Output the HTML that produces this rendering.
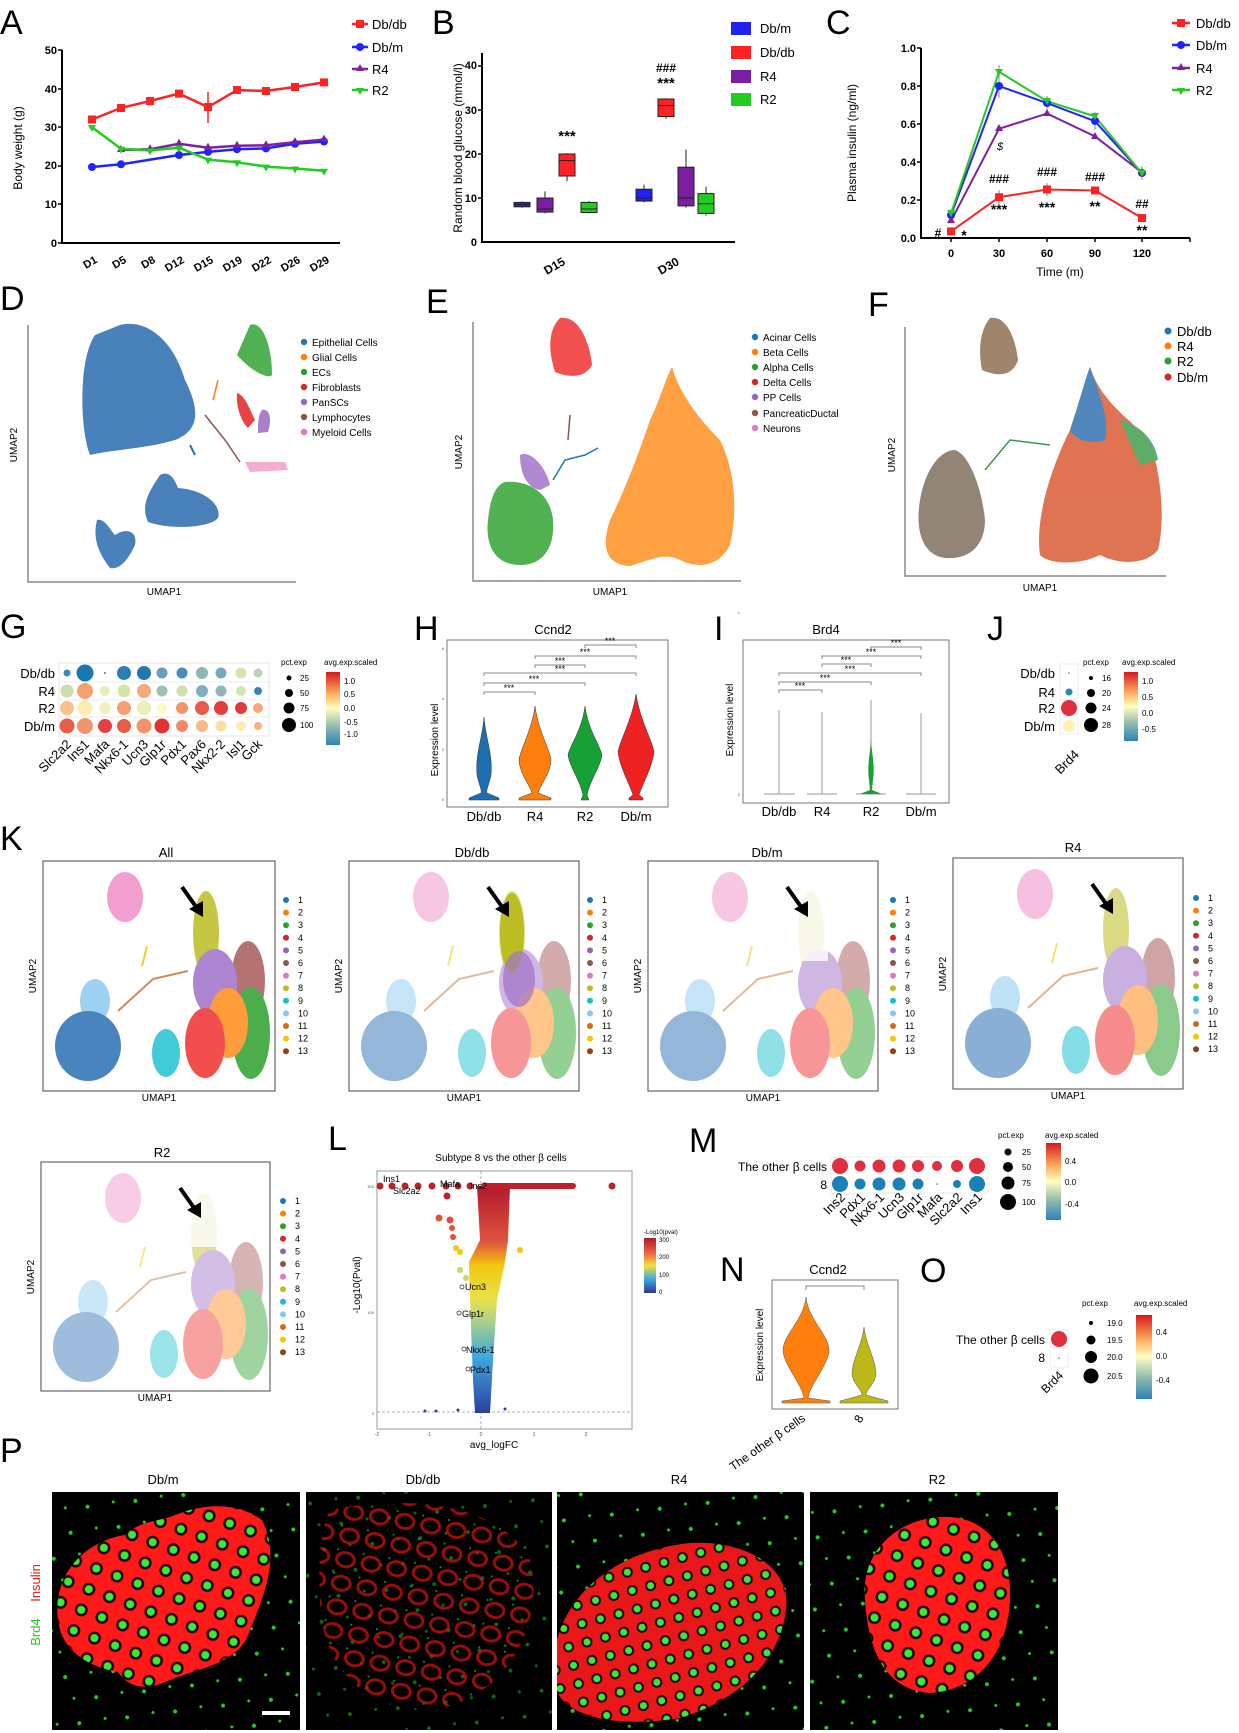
<!DOCTYPE html>
<html><head><meta charset="utf-8"><style>
html,body{margin:0;padding:0;background:#fff;}
svg{display:block;font-family:"Liberation Sans",sans-serif;}
.L{font-size:34px;}
.t{font-size:11px;font-weight:bold;}
.s{font-size:10px;}
.xs{font-size:8px;}
.um{opacity:.82;}
</style></head><body>
<svg width="1239" height="1733" viewBox="0 0 1239 1733" xmlns="http://www.w3.org/2000/svg">
<defs>
<linearGradient id="cb" x1="0" y1="0" x2="0" y2="1">
<stop offset="0" stop-color="#d7191c"/><stop offset=".3" stop-color="#fdae61"/><stop offset=".5" stop-color="#ffffbf"/><stop offset=".75" stop-color="#8fb9b0"/><stop offset="1" stop-color="#2b83ba"/></linearGradient>
<linearGradient id="vg" x1="0" y1="0" x2="0" y2="1">
<stop offset="0" stop-color="#b2182b"/><stop offset=".25" stop-color="#e0573f"/><stop offset=".35" stop-color="#f2c80f"/><stop offset=".5" stop-color="#e8e24a"/><stop offset=".6" stop-color="#a8d08d"/><stop offset=".75" stop-color="#3fa9e0"/><stop offset="1" stop-color="#2b3f9e"/></linearGradient>
<linearGradient id="lcb" x1="0" y1="0" x2="0" y2="1">
<stop offset="0" stop-color="#b2182b"/><stop offset=".3" stop-color="#f46d43"/><stop offset=".5" stop-color="#f2e33a"/><stop offset=".75" stop-color="#3fa9e0"/><stop offset="1" stop-color="#313695"/></linearGradient>
<pattern id="cells" width="22" height="22" patternUnits="userSpaceOnUse" patternTransform="rotate(20)">
<circle cx="11" cy="11" r="6.5" fill="#2a0000"/><circle cx="11" cy="11" r="4" fill="#33ee33"/></pattern>
<pattern id="cells2" width="19" height="19" patternUnits="userSpaceOnUse" patternTransform="rotate(-15)">
<circle cx="9" cy="9" r="5.5" fill="#2a0000"/><circle cx="9" cy="9" r="3.5" fill="#33ee33"/></pattern>
<pattern id="faint" width="26" height="24" patternUnits="userSpaceOnUse" patternTransform="rotate(10)">
<ellipse cx="13" cy="12" rx="9" ry="7" fill="none" stroke="#cc1111" stroke-width="3"/><circle cx="4" cy="3" r="1" fill="#2c2"/></pattern>
<pattern id="gdots" width="37" height="31" patternUnits="userSpaceOnUse" patternTransform="rotate(33)">
<circle cx="6" cy="7" r="2" fill="#2c2"/><circle cx="25" cy="20" r="1.5" fill="#2c2"/></pattern>
<g id="kumap">
<ellipse cx="82" cy="36" rx="18" ry="25" fill="#f08fc8"/>
<path d="M75,150 L110,118 L145,110" stroke="#c8763a" stroke-width="2" fill="none"/>
<path d="M104,85 L99,105" stroke="#f2c800" stroke-width="2"/>
<ellipse cx="52" cy="140" rx="15" ry="22" fill="#8ccbf2"/>
<ellipse cx="45" cy="185" rx="33" ry="35" fill="#2a6fb5"/>
<ellipse cx="123" cy="192" rx="14" ry="24" fill="#22c2d0"/>
<ellipse cx="205" cy="120" rx="17" ry="40" fill="#a85a5a"/>
<ellipse cx="208" cy="172" rx="19" ry="46" fill="#2ca02c"/>
<ellipse cx="163" cy="72" rx="13" ry="42" fill="#bcbd22"/>
<ellipse cx="172" cy="122" rx="22" ry="34" fill="#a070c8"/>
<ellipse cx="185" cy="162" rx="20" ry="35" fill="#ff8c1a"/>
<ellipse cx="162" cy="182" rx="20" ry="35" fill="#f03030"/>
</g>
<g id="karrow"><path d="M139,26 L156,50" stroke="#000" stroke-width="4"/><path d="M146,48 L160,56 L160,40 Z" fill="#000"/></g>
<g id="klegend" font-size="9">
<circle cx="0" cy="0" r="3" fill="#1f77b4"/><text x="12" y="3">1</text>
<circle cx="0" cy="12.6" r="3" fill="#ff7f0e"/><text x="12" y="15.6">2</text>
<circle cx="0" cy="25.2" r="3" fill="#2ca02c"/><text x="12" y="28.2">3</text>
<circle cx="0" cy="37.8" r="3" fill="#d62728"/><text x="12" y="40.8">4</text>
<circle cx="0" cy="50.4" r="3" fill="#9467bd"/><text x="12" y="53.4">5</text>
<circle cx="0" cy="63" r="3" fill="#8c564b"/><text x="12" y="66">6</text>
<circle cx="0" cy="75.6" r="3" fill="#e377c2"/><text x="12" y="78.6">7</text>
<circle cx="0" cy="88.2" r="3" fill="#bcbd22"/><text x="12" y="91.2">8</text>
<circle cx="0" cy="100.8" r="3" fill="#17becf"/><text x="12" y="103.8">9</text>
<circle cx="0" cy="113.4" r="3" fill="#7fc8f8"/><text x="12" y="116.4">10</text>
<circle cx="0" cy="126" r="3" fill="#d2691e"/><text x="12" y="129">11</text>
<circle cx="0" cy="138.6" r="3" fill="#f2c800"/><text x="12" y="141.6">12</text>
<circle cx="0" cy="151.2" r="3" fill="#8b4513"/><text x="12" y="154.2">13</text>
</g>
</defs>

<!-- ===== A ===== -->
<text class="L" x="0" y="34">A</text>
<g stroke="#000" stroke-width="2" fill="none"><path d="M62,50 V243 H340"/></g>
<g class="t" text-anchor="end"><text x="57" y="54">50</text><text x="57" y="93">40</text><text x="57" y="131">30</text><text x="57" y="169">20</text><text x="57" y="208">10</text><text x="57" y="247">0</text></g>
<g stroke="#000" stroke-width="1.5"><path d="M58,50H62M58,89H62M58,127H62M58,166H62M58,204H62M58,243H62"/></g>
<text class="t" transform="translate(22,148) rotate(-90)" text-anchor="middle" style="font-weight:normal;font-size:12px">Body weight (g)</text>
<g class="t" text-anchor="end">
<text transform="translate(98,262) rotate(-30)">D1</text><text transform="translate(127,262) rotate(-30)">D5</text><text transform="translate(156,262) rotate(-30)">D8</text><text transform="translate(185,262) rotate(-30)">D12</text><text transform="translate(214,262) rotate(-30)">D15</text><text transform="translate(243,262) rotate(-30)">D19</text><text transform="translate(272,262) rotate(-30)">D22</text><text transform="translate(301,262) rotate(-30)">D26</text><text transform="translate(330,262) rotate(-30)">D29</text></g>
<path d="M208,123V92" stroke="#f22" stroke-width="1.5"/>
<polyline fill="none" stroke="#f22" stroke-width="2.5" points="92,119.5 121,107.9 150,101 179,93.6 208,107.1 237,90.1 266,90.9 295,87 324,82.4"/>
<polyline fill="none" stroke="#22f" stroke-width="2.5" points="92,167 121,164.3 179,155 208,151.9 237,149.2 266,148.4 295,143.8 324,141.5"/>
<polyline fill="none" stroke="#8020a0" stroke-width="2.5" points="121,150 150,149.2 179,143.8 208,147.7 237,145.7 266,145.3 295,142.3 324,139.6"/>
<polyline fill="none" stroke="#2c2" stroke-width="2.5" points="92,127.2 121,148.8 150,150.4 179,147.7 208,159.6 237,162.3 266,166.6 295,168.5 324,170.8"/>
<g fill="#f22"><rect x="88" y="115.5" width="8" height="8"/><rect x="117" y="104" width="8" height="8"/><rect x="146" y="97" width="8" height="8"/><rect x="175" y="89.6" width="8" height="8"/><rect x="204" y="103" width="8" height="8"/><rect x="233" y="86" width="8" height="8"/><rect x="262" y="87" width="8" height="8"/><rect x="291" y="83" width="8" height="8"/><rect x="320" y="78.4" width="8" height="8"/></g>
<g fill="#22f"><circle cx="92" cy="167" r="4"/><circle cx="121" cy="164.3" r="4"/><circle cx="179" cy="155" r="4"/><circle cx="208" cy="151.9" r="4"/><circle cx="237" cy="149.2" r="4"/><circle cx="266" cy="148.4" r="4"/><circle cx="295" cy="143.8" r="4"/><circle cx="324" cy="141.5" r="4"/></g>
<g fill="#8020a0"><path d="M121,145l4,7h-8z"/><path d="M150,144.2l4,7h-8z"/><path d="M179,138.8l4,7h-8z"/><path d="M208,142.7l4,7h-8z"/><path d="M237,140.7l4,7h-8z"/><path d="M266,140.3l4,7h-8z"/><path d="M295,137.3l4,7h-8z"/><path d="M324,134.6l4,7h-8z"/></g>
<g fill="#2c2"><path d="M92,132l4,-7h-8z"/><path d="M121,153.8l4,-7h-8z"/><path d="M150,155.4l4,-7h-8z"/><path d="M179,152.7l4,-7h-8z"/><path d="M208,164.6l4,-7h-8z"/><path d="M237,167.3l4,-7h-8z"/><path d="M266,171.6l4,-7h-8z"/><path d="M295,173.5l4,-7h-8z"/><path d="M324,175.8l4,-7h-8z"/></g>
<g font-size="13">
<path d="M352,24H368" stroke="#f22" stroke-width="2.5"/><rect x="356" y="20" width="8" height="8" fill="#f22"/><text x="372" y="29">Db/db</text>
<path d="M352,47H368" stroke="#22f" stroke-width="2.5"/><circle cx="360" cy="47" r="4" fill="#22f"/><text x="372" y="52">Db/m</text>
<path d="M352,69H368" stroke="#8020a0" stroke-width="2.5"/><path d="M360,64l4,7h-8z" fill="#8020a0"/><text x="372" y="74">R4</text>
<path d="M352,90H368" stroke="#2c2" stroke-width="2.5"/><path d="M360,95l4,-7h-8z" fill="#2c2"/><text x="372" y="95">R2</text></g>

<!-- ===== B ===== -->
<text class="L" x="432" y="34">B</text>
<g stroke="#000" stroke-width="2" fill="none"><path d="M482,53 V242 H735"/></g>
<g class="t" text-anchor="end"><text x="477" y="69">40</text><text x="477" y="114">30</text><text x="477" y="158">20</text><text x="477" y="202">10</text><text x="477" y="246">0</text></g>
<g stroke="#000" stroke-width="1.5"><path d="M478,66H482M478,110H482M478,154H482M478,198H482"/></g>
<text transform="translate(462,148) rotate(-90)" text-anchor="middle" font-size="12">Random blood glucose (mmol/l)</text>
<g class="t" text-anchor="end" style="font-size:12px"><text transform="translate(566,264) rotate(-30)">D15</text><text transform="translate(680,264) rotate(-30)">D30</text></g>
<g stroke="#222" stroke-width="1">
<path d="M522,207.7V201.5M545,213.4V191.4M567,181.3V153.1M589,213.4V201.1M644,202.4V184.8M666,118.8V98.1M686,207.7V149.6M706,215.6V186.6"/>
<rect x="514" y="202.4" width="16" height="4.4" fill="#22e"/>
<rect x="537" y="198" width="16" height="14.1" fill="#7a1fa2"/>
<rect x="559" y="154" width="16" height="22" fill="#f22"/>
<rect x="581" y="202.4" width="16" height="10.1" fill="#2c2"/>
<rect x="636" y="189.2" width="16" height="11.9" fill="#22e"/>
<rect x="658" y="99" width="16" height="17.6" fill="#f22"/>
<rect x="678" y="167.2" width="16" height="38.7" fill="#7a1fa2"/>
<rect x="698" y="193.6" width="16" height="19.8" fill="#2c2"/>
<path d="M514,204.6H530M537,209H553M559,160.6H575M581,209H597M636,198H652M658,105.6H674M678,198H694M698,203.7H714"/></g>
<g font-size="15" text-anchor="middle" font-weight="bold"><text x="567" y="141">***</text><text x="666" y="88">***</text><text x="666" y="72" font-size="12">###</text></g>
<g font-size="13">
<rect x="731" y="22" width="20" height="13" fill="#22e"/><text x="760" y="33">Db/m</text>
<rect x="731" y="46" width="20" height="13" fill="#f22"/><text x="760" y="57">Db/db</text>
<rect x="731" y="70" width="20" height="13" fill="#7a1fa2"/><text x="760" y="81">R4</text>
<rect x="731" y="93" width="20" height="13" fill="#2c2"/><text x="760" y="104">R2</text></g>

<!-- ===== C ===== -->
<text class="L" x="826" y="34">C</text>
<g stroke="#000" stroke-width="2" fill="none"><path d="M921,48 V238 H1190"/></g>
<g class="t" text-anchor="end"><text x="916" y="52">1.0</text><text x="916" y="90">0.8</text><text x="916" y="128">0.6</text><text x="916" y="166">0.4</text><text x="916" y="204">0.2</text><text x="916" y="242">0.0</text></g>
<g stroke="#000" stroke-width="1.5"><path d="M917,48H921M917,86H921M917,124H921M917,162H921M917,200H921M951,238V242M999,238V242M1047,238V242M1095,238V242M1142,238V242M1190,238V242"/></g>
<text transform="translate(856,143) rotate(-90)" text-anchor="middle" font-size="12">Plasma insulin (ng/ml)</text>
<g class="t" text-anchor="middle"><text x="951" y="257">0</text><text x="999" y="257">30</text><text x="1047" y="257">60</text><text x="1095" y="257">90</text><text x="1142" y="257">120</text></g>
<text x="1060" y="276" text-anchor="middle" font-size="12">Time (m)</text>
<path d="M999,65V98M1047,96V110M1095,112V130M1142,166V180M1047,183V196M999,190V204" stroke="#888" stroke-width="1"/>
<polyline fill="none" stroke="#22f" stroke-width="2" points="951,215.2 999,86 1047,103.1 1095,121.2 1142,173.4"/>
<polyline fill="none" stroke="#8020a0" stroke-width="2" points="951,220.9 999,128.8 1047,113.6 1095,136.4 1142,172.5"/>
<polyline fill="none" stroke="#2c2" stroke-width="2" points="951,213.3 999,71.8 1047,101.2 1095,116.4 1142,173.4"/>
<polyline fill="none" stroke="#f22" stroke-width="2" points="951,231.4 999,197.2 1047,189.5 1095,190.5 1142,218"/>
<g fill="#22f"><circle cx="951" cy="215" r="4"/><circle cx="999" cy="86" r="4"/><circle cx="1047" cy="103" r="4"/><circle cx="1095" cy="121" r="4"/><circle cx="1142" cy="173" r="4"/></g>
<g fill="#8020a0"><path d="M951,216l4,7h-8z"/><path d="M999,124l4,7h-8z"/><path d="M1047,109l4,7h-8z"/><path d="M1095,132l4,7h-8z"/><path d="M1142,168l4,7h-8z"/></g>
<g fill="#2c2"><path d="M951,217l4,-7h-8z"/><path d="M999,76l4,-7h-8z"/><path d="M1047,105l4,-7h-8z"/><path d="M1095,120l4,-7h-8z"/><path d="M1142,177l4,-7h-8z"/></g>
<g fill="#f22"><rect x="947" y="227.4" width="8" height="8"/><rect x="995" y="193.2" width="8" height="8"/><rect x="1043" y="185.5" width="8" height="8"/><rect x="1091" y="186.5" width="8" height="8"/><rect x="1138" y="214" width="8" height="8"/></g>
<g font-size="12" text-anchor="middle" font-weight="bold"><text x="938" y="237">#</text><text x="964" y="240" font-size="14">*</text>
<text x="999" y="183">###</text><text x="999" y="214" font-size="14">***</text>
<text x="1047" y="176">###</text><text x="1047" y="212" font-size="14">***</text>
<text x="1095" y="181">###</text><text x="1095" y="211" font-size="14">**</text>
<text x="1142" y="208">##</text><text x="1142" y="235" font-size="14">**</text>
<text x="1000" y="150" font-style="italic" font-weight="normal" font-size="11">$</text></g>
<g font-size="13">
<path d="M1172,23H1190" stroke="#f22" stroke-width="2.5"/><rect x="1177" y="19" width="8" height="8" fill="#f22"/><text x="1196" y="28">Db/db</text>
<path d="M1172,45H1190" stroke="#22f" stroke-width="2.5"/><circle cx="1181" cy="45" r="4" fill="#22f"/><text x="1196" y="50">Db/m</text>
<path d="M1172,68H1190" stroke="#8020a0" stroke-width="2.5"/><path d="M1181,63l4,7h-8z" fill="#8020a0"/><text x="1196" y="73">R4</text>
<path d="M1172,90H1190" stroke="#2c2" stroke-width="2.5"/><path d="M1181,95l4,-7h-8z" fill="#2c2"/><text x="1196" y="95">R2</text></g>

<!-- ===== D ===== -->
<text class="L" x="0" y="310">D</text>
<path d="M28,325V582H296" stroke="#888" stroke-width="1.5" fill="none"/>
<text x="164" y="595" class="s" text-anchor="middle">UMAP1</text>
<text transform="translate(17,445) rotate(-90)" class="s" text-anchor="middle">UMAP2</text>
<g class="um">
<g fill="#2166ac">
<path d="M120,325 C150,318 175,345 185,380 C200,410 200,430 175,440 C150,448 110,450 90,455 C80,430 78,360 95,335 Z"/>
<path d="M160,475 C170,470 175,480 178,488 C205,490 222,505 218,518 C210,528 170,530 148,522 C140,505 150,490 160,475 Z"/>
<path d="M97,520 C105,518 110,530 115,535 C125,528 138,530 135,545 C128,560 120,570 110,568 C100,555 92,540 97,520 Z"/>
</g>
<path d="M250,325 C262,320 272,345 272,375 C268,380 250,370 237,355 Z" fill="#2ca02c"/>
<path d="M237,393 C245,395 250,410 255,420 L248,428 C240,420 236,405 237,393 Z" fill="#e31a1c"/>
<path d="M262,410 C270,408 272,420 268,432 L258,433 C258,423 258,415 262,410Z" fill="#9467bd"/>
<path d="M245,462 L285,462 L288,470 L250,472 Z" fill="#f29ac8"/>
</g>
<path d="M205,415 L225,440 L240,462" stroke="#8c564b" stroke-width="1.5" fill="none"/>
<path d="M218,380 L213,400" stroke="#ff7f0e" stroke-width="1.5"/>
<path d="M190,445 L195,455" stroke="#1f77b4" stroke-width="2"/>
<g font-size="10">
<circle cx="304" cy="342" r="3.2" fill="#1f77b4"/><text x="312" y="346">Epithelial Cells</text>
<circle cx="304" cy="357" r="3.2" fill="#ff7f0e"/><text x="312" y="361">Glial Cells</text>
<circle cx="304" cy="372" r="3.2" fill="#2ca02c"/><text x="312" y="376">ECs</text>
<circle cx="304" cy="387" r="3.2" fill="#d62728"/><text x="312" y="391">Fibroblasts</text>
<circle cx="304" cy="402" r="3.2" fill="#9467bd"/><text x="312" y="406">PanSCs</text>
<circle cx="304" cy="417" r="3.2" fill="#8c564b"/><text x="312" y="421">Lymphocytes</text>
<circle cx="304" cy="432" r="3.2" fill="#e377c2"/><text x="312" y="436">Myeloid Cells</text></g>

<!-- ===== E ===== -->
<text class="L" x="426" y="313">E</text>
<path d="M473,322V581H741" stroke="#888" stroke-width="1.5" fill="none"/>
<text x="610" y="595" class="s" text-anchor="middle">UMAP1</text>
<text transform="translate(462,452) rotate(-90)" class="s" text-anchor="middle">UMAP2</text>
<g class="um">
<path d="M560,318 C580,315 590,345 592,365 C585,378 570,378 555,372 C548,350 548,330 560,318 Z" fill="#ee2a2a"/>
<path d="M672,367 C680,395 700,420 720,440 C735,470 738,510 730,545 C720,565 700,570 680,560 C665,552 650,560 630,566 C608,565 600,550 610,520 C625,490 640,450 650,420 C660,400 665,380 672,367 Z" fill="#ff8c1a"/>
<path d="M520,455 C530,450 545,465 550,485 L540,490 C528,488 520,475 520,455 Z" fill="#a070c8"/>
<path d="M505,482 C525,480 550,490 553,520 C555,545 545,565 520,565 C495,565 485,545 488,520 C490,500 495,485 505,482 Z" fill="#2ca02c"/>
</g>
<path d="M553,480 L565,460 L585,455 L598,448" stroke="#1f77b4" stroke-width="1.5" fill="none"/>
<path d="M570,415 L568,440" stroke="#8c564b" stroke-width="1.5"/>
<g font-size="10">
<circle cx="755" cy="337" r="3.2" fill="#1f77b4"/><text x="763" y="341">Acinar Cells</text>
<circle cx="755" cy="352" r="3.2" fill="#ff7f0e"/><text x="763" y="356">Beta Cells</text>
<circle cx="755" cy="367" r="3.2" fill="#2ca02c"/><text x="763" y="371">Alpha Cells</text>
<circle cx="755" cy="382" r="3.2" fill="#d62728"/><text x="763" y="386">Delta Cells</text>
<circle cx="755" cy="397" r="3.2" fill="#9467bd"/><text x="763" y="401">PP Cells</text>
<circle cx="755" cy="413" r="3.2" fill="#8c564b"/><text x="763" y="417">PancreaticDuctal</text>
<circle cx="755" cy="428" r="3.2" fill="#e377c2"/><text x="763" y="432">Neurons</text></g>

<!-- ===== F ===== -->
<text class="L" x="868" y="316">F</text>
<path d="M905,327V576H1166" stroke="#888" stroke-width="1.5" fill="none"/>
<text x="1040" y="591" class="s" text-anchor="middle">UMAP1</text>
<text transform="translate(895,455) rotate(-90)" class="s" text-anchor="middle">UMAP2</text>
<g class="um">
<path d="M990,318 C1005,315 1015,335 1018,360 C1012,378 995,376 982,370 C978,350 980,330 990,318 Z" fill="#8a6a4a"/>
<path d="M1090,367 C1100,400 1130,420 1150,440 C1162,480 1165,520 1158,550 C1145,565 1120,565 1100,555 C1080,565 1050,565 1040,555 C1035,520 1050,470 1070,430 C1080,400 1085,380 1090,367 Z" fill="#d8552e"/>
<path d="M1090,367 C1100,395 1110,420 1105,440 C1090,445 1075,440 1070,430 C1080,400 1085,380 1090,367 Z" fill="#2a6fb0"/>
<path d="M1120,420 C1140,425 1155,440 1158,460 L1140,465 Z" fill="#3a9a4a"/>
<path d="M955,450 C970,455 982,490 985,520 C985,545 970,560 945,558 C922,555 915,530 920,500 C925,470 940,450 955,450 Z" fill="#7a6a5a"/>
</g>
<path d="M985,470 L1010,440 L1050,445" stroke="#3a9a4a" stroke-width="1.5" fill="none"/>
<g font-size="13">
<circle cx="1168" cy="331" r="3.5" fill="#1f77b4"/><text x="1177" y="336">Db/db</text>
<circle cx="1168" cy="346" r="3.5" fill="#ff7f0e"/><text x="1177" y="351">R4</text>
<circle cx="1168" cy="361" r="3.5" fill="#2ca02c"/><text x="1177" y="366">R2</text>
<circle cx="1168" cy="377" r="3.5" fill="#d62728"/><text x="1177" y="382">Db/m</text></g>

<!-- ===== G ===== -->
<text class="L" x="0" y="638">G</text>
<rect x="59" y="663" width="210" height="73" fill="none" stroke="#e4e4e4"/>
<g stroke="#eee"><path d="M59,682H269M59,700H269M59,717H269"/></g>
<g font-size="13" text-anchor="end"><text x="55" y="678">Db/db</text><text x="55" y="696">R4</text><text x="55" y="713">R2</text><text x="55" y="731">Db/m</text></g>
<g>
<circle cx="67" cy="673" r="3.5" fill="#3a8ac0"/><circle cx="85" cy="673" r="8.5" fill="#1a78b0"/><circle cx="105" cy="673" r="1" fill="#3a8ac0"/><circle cx="124" cy="673" r="7" fill="#2b7db5"/><circle cx="144" cy="673" r="7" fill="#2278b0"/><circle cx="162" cy="673" r="5.5" fill="#6a9fb8"/><circle cx="182" cy="673" r="5.5" fill="#4a8cbc"/><circle cx="202" cy="673" r="6" fill="#8fb5b5"/><circle cx="221" cy="673" r="5.5" fill="#7ba8b8"/><circle cx="241" cy="673" r="5.5" fill="#d6e4b0"/><circle cx="258" cy="673" r="4.5" fill="#bcd4b0"/>
<circle cx="67" cy="691" r="6.5" fill="#cdddaa"/><circle cx="85" cy="691" r="8" fill="#f4a070"/><circle cx="105" cy="691" r="5" fill="#e6eeb5"/><circle cx="124" cy="691" r="6.5" fill="#d6e4ab"/><circle cx="144" cy="691" r="7" fill="#f5a878"/><circle cx="162" cy="691" r="5.5" fill="#9fbfb5"/><circle cx="182" cy="691" r="5.5" fill="#d0e0aa"/><circle cx="202" cy="691" r="6" fill="#80aebb"/><circle cx="221" cy="691" r="5.5" fill="#8fb6b8"/><circle cx="241" cy="691" r="5" fill="#d6e4b0"/><circle cx="258" cy="691" r="4" fill="#3a85b8"/>
<circle cx="67" cy="708" r="7" fill="#fbc18a"/><circle cx="85" cy="708" r="7.5" fill="#fdebb0"/><circle cx="105" cy="708" r="6" fill="#f0f2c0"/><circle cx="124" cy="708" r="7" fill="#f4a070"/><circle cx="144" cy="708" r="7" fill="#e8f0b8"/><circle cx="162" cy="708" r="5" fill="#fbf8c0"/><circle cx="182" cy="708" r="6" fill="#f5946a"/><circle cx="202" cy="708" r="7" fill="#ea5a48"/><circle cx="221" cy="708" r="7" fill="#e24040"/><circle cx="241" cy="708" r="6" fill="#e23a3a"/><circle cx="258" cy="708" r="5" fill="#f8a878"/>
<circle cx="67" cy="726" r="7.5" fill="#ea5a48"/><circle cx="85" cy="726" r="8" fill="#f5946a"/><circle cx="105" cy="726" r="7" fill="#e84040"/><circle cx="124" cy="726" r="7" fill="#ea5a48"/><circle cx="144" cy="726" r="7.5" fill="#f5946a"/><circle cx="162" cy="726" r="7.5" fill="#e23333"/><circle cx="182" cy="726" r="6" fill="#f5866a"/><circle cx="202" cy="726" r="6" fill="#fbb888"/><circle cx="221" cy="726" r="5.5" fill="#fde0a0"/><circle cx="241" cy="726" r="5" fill="#fdebb0"/><circle cx="258" cy="726" r="4" fill="#fbb080"/>
</g>
<g font-size="13" text-anchor="end">
<text transform="translate(72,745) rotate(-45)">Slc2a2</text><text transform="translate(90,745) rotate(-45)">Ins1</text><text transform="translate(110,745) rotate(-45)">Mafa</text><text transform="translate(129,745) rotate(-45)">Nkx6-1</text><text transform="translate(149,745) rotate(-45)">Ucn3</text><text transform="translate(167,745) rotate(-45)">Glp1r</text><text transform="translate(187,745) rotate(-45)">Pdx1</text><text transform="translate(207,745) rotate(-45)">Pax6</text><text transform="translate(226,745) rotate(-45)">Nkx2-2</text><text transform="translate(246,745) rotate(-45)">Isl1</text><text transform="translate(263,745) rotate(-45)">Gck</text></g>
<g class="xs"><text x="281" y="665">pct.exp</text><circle cx="289" cy="678" r="2.5"/><text x="300" y="681">25</text><circle cx="289" cy="693" r="4"/><text x="300" y="696">50</text><circle cx="289" cy="708" r="5.5"/><text x="300" y="711">75</text><circle cx="289" cy="725" r="7"/><text x="300" y="728">100</text>
<text x="324" y="665">avg.exp.scaled</text><rect x="326" y="672" width="14" height="73" fill="url(#cb)"/><text x="344" y="684">1.0</text><text x="344" y="697">0.5</text><text x="344" y="711">0.0</text><text x="344" y="725">-0.5</text><text x="344" y="737">-1.0</text></g>

<!-- ===== H ===== -->
<text class="L" x="414" y="640">H</text>
<text x="553" y="634" text-anchor="middle" font-size="13">Ccnd2</text>
<rect x="447" y="640" width="221" height="167" fill="none" stroke="#777"/>
<g font-size="4" fill="#555" text-anchor="end"><text x="444" y="801">0</text><text x="444" y="751">2</text><text x="444" y="700">4</text><text x="444" y="650">6</text></g>
<text transform="translate(438,740) rotate(-90)" text-anchor="middle" font-size="10">Expression level</text>
<g stroke="#333" stroke-width=".5">
<path d="M484,717 C486,740 493,755 491,775 C489,785 486,790 487,793 L499,798 L499,800 L469,800 L469,798 L481,793 C482,790 479,785 477,775 C475,755 482,740 484,717 Z" fill="#1f6fb0"/>
<path d="M535,706 C538,730 550,750 551,760 C550,775 540,785 538,793 L551,798 L551,800 L519,800 L519,798 L532,793 C530,785 520,775 519,760 C520,750 532,730 535,706 Z" fill="#ff7f0e"/>
<path d="M585,706 C588,730 600,745 602,755 C600,768 590,780 587,795 L589,800 L581,800 L583,795 C580,780 570,768 568,755 C570,745 582,730 585,706 Z" fill="#17a035"/>
<path d="M636,694 C640,720 652,740 654,752 C652,768 642,785 639,795 L643,798 L643,800 L629,800 L629,798 L633,795 C630,785 620,768 618,752 C620,740 632,720 636,694 Z" fill="#ee2222"/></g>
<g stroke="#888" fill="none" stroke-width="1">
<path d="M585,648V645H636V648M535,659V656H636V659M535,668V665H585V668M484,676V673H636V676M484,686V683H585V686M484,695V692H535V695"/></g>
<g font-size="9" text-anchor="middle"><text x="610" y="644">***</text><text x="585" y="655">***</text><text x="560" y="664">***</text><text x="560" y="672">***</text><text x="534" y="682">***</text><text x="509" y="691">***</text></g>
<g font-size="13" text-anchor="middle"><text x="484" y="821">Db/db</text><text x="535" y="821">R4</text><text x="585" y="821">R2</text><text x="636" y="821">Db/m</text></g>

<!-- ===== I ===== -->
<text class="L" x="714" y="640">I</text>
<text x="826" y="634" text-anchor="middle" font-size="13">Brd4</text>
<rect x="743" y="640" width="206" height="163" fill="none" stroke="#777"/>
<g font-size="4" fill="#555" text-anchor="end"><text x="740" y="796">0</text><text x="740" y="614">1</text></g>
<text transform="translate(733,720) rotate(-90)" text-anchor="middle" font-size="10">Expression level</text>
<g stroke="#999" stroke-width="1"><path d="M779,794V710M822,794V712M871,794V700M921,794V713M764,794H795M807,794H837M856,794H886M906,794H936"/></g>
<path d="M871,740 C872,755 875,765 873,780 L872,790 L882,794 L860,794 L870,790 L869,780 C867,765 870,755 871,740Z" fill="#17a035"/>
<g stroke="#888" fill="none" stroke-width="1">
<path d="M871,650V647H921V650M822,659V656H921V659M822,667V664H871V667M779,676V673H921V676M779,685V682H871V685M779,693V690H822V693"/></g>
<g font-size="9" text-anchor="middle"><text x="896" y="646">***</text><text x="871" y="655">***</text><text x="846" y="663">***</text><text x="850" y="672">***</text><text x="825" y="681">***</text><text x="800" y="689">***</text></g>
<g font-size="13" text-anchor="middle"><text x="779" y="816">Db/db</text><text x="822" y="816">R4</text><text x="871" y="816">R2</text><text x="921" y="816">Db/m</text></g>

<!-- ===== J ===== -->
<text class="L" x="987" y="640">J</text>
<g font-size="13" text-anchor="end"><text x="1055" y="678">Db/db</text><text x="1055" y="697">R4</text><text x="1055" y="713">R2</text><text x="1055" y="731">Db/m</text></g>
<rect x="1060" y="664" width="18" height="70" fill="none" stroke="#eee"/>
<circle cx="1069" cy="673" r=".8" fill="#2b83ba"/><circle cx="1069" cy="692" r="3.5" fill="#2b83ba"/><circle cx="1069" cy="708" r="8" fill="#e03040"/><circle cx="1069" cy="726" r="6" fill="#fdf2b0"/>
<text transform="translate(1070,765) rotate(-45)" font-size="13" text-anchor="middle">Brd4</text>
<g class="xs"><text x="1083" y="665">pct.exp</text><circle cx="1091" cy="678" r="2"/><text x="1102" y="681">16</text><circle cx="1091" cy="693" r="4"/><text x="1102" y="696">20</text><circle cx="1091" cy="708" r="5.5"/><text x="1102" y="711">24</text><circle cx="1091" cy="725" r="7"/><text x="1102" y="728">28</text>
<text x="1122" y="665">avg.exp.scaled</text><rect x="1124" y="672" width="14" height="69" fill="url(#cb)"/><text x="1142" y="684">1.0</text><text x="1142" y="700">0.5</text><text x="1142" y="716">0.0</text><text x="1142" y="732">-0.5</text></g>

<!-- ===== K ===== -->
<text class="L" x="0" y="850">K</text>
<g font-size="13" text-anchor="middle"><text x="166" y="857">All</text><text x="472" y="857">Db/db</text><text x="767" y="857">Db/m</text><text x="1073" y="852">R4</text></g>
<rect x="43" y="861" width="232" height="230" fill="none" stroke="#666" stroke-width="1.2"/>
<g transform="translate(43,861)"><g opacity=".85"><use href="#kumap"/></g><use href="#karrow"/></g>
<rect x="349" y="861" width="230" height="230" fill="none" stroke="#666" stroke-width="1.2"/>
<g transform="translate(349,861)"><g opacity=".5"><use href="#kumap"/></g><ellipse cx="163" cy="72" rx="12" ry="40" fill="#bcbd22"/><ellipse cx="170" cy="118" rx="16" ry="28" fill="#a070c8" opacity=".7"/><use href="#karrow"/></g>
<rect x="648" y="861" width="230" height="230" fill="none" stroke="#666" stroke-width="1.2"/>
<g transform="translate(648,861)"><g opacity=".5"><use href="#kumap"/></g><rect x="140" y="20" width="40" height="80" fill="#fff" opacity=".8"/><use href="#karrow"/></g>
<rect x="953" y="858" width="230" height="231" fill="none" stroke="#666" stroke-width="1.2"/>
<g transform="translate(953,858)"><g opacity=".55"><use href="#kumap"/></g><use href="#karrow"/></g>
<g class="s" text-anchor="middle"><text x="159" y="1101">UMAP1</text><text x="464" y="1101">UMAP1</text><text x="763" y="1101">UMAP1</text><text x="1068" y="1099">UMAP1</text>
<text transform="translate(36,976) rotate(-90)">UMAP2</text><text transform="translate(342,976) rotate(-90)">UMAP2</text><text transform="translate(641,976) rotate(-90)">UMAP2</text><text transform="translate(946,974) rotate(-90)">UMAP2</text><text transform="translate(34,1277) rotate(-90)">UMAP2</text></g>
<g transform="translate(286,900)"><use href="#klegend"/></g>
<g transform="translate(590,900)"><use href="#klegend"/></g>
<g transform="translate(893,900)"><use href="#klegend"/></g>
<g transform="translate(1196,898)"><use href="#klegend"/></g>

<!-- R2 -->
<text x="162" y="1157" font-size="13" text-anchor="middle">R2</text>
<rect x="41" y="1162" width="229" height="229" fill="none" stroke="#666" stroke-width="1.2"/>
<g transform="translate(41,1162)"><g opacity=".45"><use href="#kumap"/></g><rect x="140" y="15" width="40" height="70" fill="#fff" opacity=".8"/><use href="#karrow"/></g>
<text x="155" y="1401" class="s" text-anchor="middle">UMAP1</text>
<g transform="translate(283,1201)"><use href="#klegend"/></g>

<!-- ===== L ===== -->
<text class="L" x="328" y="1150">L</text>
<text x="501" y="1161" text-anchor="middle" font-size="10">Subtype 8 vs the other β cells</text>
<rect x="377" y="1171" width="255" height="258" fill="none" stroke="#999"/>
<g font-size="4" fill="#555" text-anchor="end"><text x="374" y="1188">300</text><text x="374" y="1314">100</text><text x="374" y="1415">0</text></g>
<g font-size="5" fill="#555" text-anchor="middle"><text x="377" y="1436">-2</text><text x="429" y="1436">-1</text><text x="481" y="1436">0</text><text x="534" y="1436">1</text><text x="586" y="1436">2</text></g>
<text x="494" y="1448" text-anchor="middle" font-size="10">avg_logFC</text>
<text transform="translate(360,1285) rotate(-90)" text-anchor="middle" font-size="10">-Log10(Pval)</text>
<path d="M481,1171V1429M377,1412H632" stroke="#999" stroke-dasharray="3,2" stroke-width=".8"/>
<path d="M477,1186 L510,1186 L508,1240 L505,1262 L497,1300 L493,1360 L490,1413 L475,1413 L473,1380 L470,1300 L469,1262 L480,1240 Z" fill="url(#vg)"/>
<rect x="481" y="1183" width="95" height="6" rx="3" fill="#c0202a"/>
<g fill="#c0202a"><circle cx="380" cy="1186" r="3.5"/><circle cx="392" cy="1186" r="3.5"/><circle cx="405" cy="1186" r="3.5"/><circle cx="418" cy="1186" r="3.5"/><circle cx="432" cy="1186" r="3.5"/><circle cx="446" cy="1186" r="3.5"/><circle cx="458" cy="1186" r="3.5"/><circle cx="470" cy="1186" r="3.5"/><circle cx="612" cy="1186" r="3.5"/><circle cx="447" cy="1196" r="3.5"/></g>
<g fill="#e0503a"><circle cx="439" cy="1218" r="3.5"/><circle cx="450" cy="1220" r="3.5"/><circle cx="452" cy="1228" r="3"/><circle cx="453" cy="1237" r="3"/></g>
<g fill="#f2c80f"><circle cx="456" cy="1248" r="3"/><circle cx="520" cy="1250" r="3"/><circle cx="460" cy="1252" r="3"/></g>
<g fill="#c8d860"><circle cx="460" cy="1270" r="3"/><circle cx="466" cy="1278" r="3"/></g>
<g fill="#2b3f9e"><circle cx="425" cy="1411" r="1.5"/><circle cx="436" cy="1411" r="1.5"/><circle cx="458" cy="1410" r="1.5"/><circle cx="505" cy="1409" r="1.5"/></g>
<g font-size="9"><text x="383" y="1182">Ins1</text><text x="393" y="1194">Slc2a2</text><text x="440" y="1187">Mafa</text><text x="470" y="1189">Ins2</text>
<text x="465" y="1290">Ucn3</text><text x="462" y="1317">Glp1r</text><text x="466" y="1353">Nkx6-1</text><text x="470" y="1373">Pdx1</text></g>
<g fill="none" stroke="#333" stroke-width=".8"><circle cx="462" cy="1287" r="2"/><circle cx="459" cy="1313" r="2"/><circle cx="464" cy="1349" r="2"/><circle cx="468" cy="1369" r="2"/></g>
<text x="644" y="1234" font-size="6">-Log10(pval)</text>
<rect x="644" y="1238" width="12" height="55" fill="url(#lcb)"/>
<g font-size="6"><text x="659" y="1242">300</text><text x="659" y="1259">200</text><text x="659" y="1277">100</text><text x="659" y="1294">0</text></g>

<!-- ===== M ===== -->
<text class="L" x="689" y="1152">M</text>
<g font-size="12" text-anchor="end"><text x="827" y="1171">The other β cells</text><text x="827" y="1189">8</text></g>
<rect x="831" y="1157" width="157" height="36" fill="none" stroke="#eee"/>
<g fill="#e03040"><circle cx="840" cy="1166" r="8"/><circle cx="860" cy="1166" r="5.5"/><circle cx="879" cy="1166" r="6.5"/><circle cx="899" cy="1166" r="6.5"/><circle cx="918" cy="1166" r="6"/><circle cx="937" cy="1166" r="5"/><circle cx="957" cy="1166" r="6"/><circle cx="977" cy="1166" r="8"/></g>
<g fill="#1a80b8"><circle cx="840" cy="1184" r="8"/><circle cx="860" cy="1184" r="5.5"/><circle cx="879" cy="1184" r="6.5"/><circle cx="899" cy="1184" r="6.5"/><circle cx="918" cy="1184" r="5.5"/><circle cx="937" cy="1184" r=".8"/><circle cx="957" cy="1184" r="4"/><circle cx="977" cy="1184" r="8"/></g>
<g font-size="13" text-anchor="end">
<text transform="translate(846,1198) rotate(-45)">Ins2</text><text transform="translate(866,1198) rotate(-45)">Pdx1</text><text transform="translate(885,1198) rotate(-45)">Nkx6-1</text><text transform="translate(905,1198) rotate(-45)">Ucn3</text><text transform="translate(924,1198) rotate(-45)">Glp1r</text><text transform="translate(943,1198) rotate(-45)">Mafa</text><text transform="translate(963,1198) rotate(-45)">Slc2a2</text><text transform="translate(983,1198) rotate(-45)">Ins1</text></g>
<g font-size="8"><text x="998" y="1138">pct.exp</text><circle cx="1008" cy="1152" r="3.5"/><text x="1022" y="1155">25</text><circle cx="1008" cy="1167" r="5"/><text x="1022" y="1170">50</text><circle cx="1008" cy="1183" r="6.5"/><text x="1022" y="1186">75</text><circle cx="1008" cy="1202" r="8"/><text x="1022" y="1205">100</text>
<text x="1045" y="1138">avg.exp.scaled</text><rect x="1046" y="1143" width="15" height="77" fill="url(#cb)"/><text x="1065" y="1164">0.4</text><text x="1065" y="1185">0.0</text><text x="1065" y="1207">-0.4</text></g>

<!-- ===== N ===== -->
<text class="L" x="720" y="1281">N</text>
<text x="828" y="1274" text-anchor="middle" font-size="13">Ccnd2</text>
<rect x="772" y="1280" width="126" height="129" fill="none" stroke="#777"/>
<text transform="translate(763,1345) rotate(-90)" text-anchor="middle" font-size="10">Expression level</text>
<g stroke="#555" stroke-width=".5">
<path d="M806,1297 C808,1320 830,1335 829,1352 C826,1368 810,1385 808,1398 L830,1401 L830,1403 L782,1403 L782,1401 L804,1398 C802,1385 786,1368 783,1352 C782,1335 804,1320 806,1297 Z" fill="#ff7f0e"/>
<path d="M864,1327 C866,1345 876,1360 876,1375 C874,1385 866,1390 866,1395 L888,1401 L888,1403 L840,1403 L840,1401 L862,1395 C862,1390 854,1385 852,1375 C852,1360 862,1345 864,1327 Z" fill="#bcb81a"/></g>
<path d="M806,1290V1286H864V1290" fill="none" stroke="#888"/>
<text transform="translate(806,1420) rotate(-35)" text-anchor="end" font-size="12">The other β cells</text>
<text transform="translate(864,1418) rotate(-60)" text-anchor="end" font-size="12">8</text>

<!-- ===== O ===== -->
<text class="L" x="920" y="1282">O</text>
<g font-size="12" text-anchor="end"><text x="1045" y="1344">The other β cells</text><text x="1045" y="1362">8</text></g>
<rect x="1050" y="1330" width="18" height="37" fill="none" stroke="#eee"/>
<circle cx="1059" cy="1339" r="8" fill="#e03040"/><circle cx="1059" cy="1358" r=".8" fill="#1a80b8"/>
<text transform="translate(1055,1385) rotate(-45)" font-size="12" text-anchor="middle">Brd4</text>
<g font-size="8"><text x="1082" y="1306">pct.exp</text><circle cx="1091" cy="1323" r="2"/><text x="1107" y="1326">19.0</text><circle cx="1091" cy="1340" r="4.5"/><text x="1107" y="1343">19.5</text><circle cx="1091" cy="1357" r="6"/><text x="1107" y="1360">20.0</text><circle cx="1091" cy="1376" r="7.5"/><text x="1107" y="1379">20.5</text>
<text x="1134" y="1306">avg.exp.scaled</text><rect x="1136" y="1315" width="16" height="84" fill="url(#cb)"/><text x="1156" y="1335">0.4</text><text x="1156" y="1359">0.0</text><text x="1156" y="1383">-0.4</text></g>

<!-- ===== P ===== -->
<text class="L" x="0" y="1462">P</text>
<g font-size="13" text-anchor="middle"><text x="163" y="1484">Db/m</text><text x="423" y="1484">Db/db</text><text x="679" y="1484">R4</text><text x="937" y="1484">R2</text></g>
<text transform="translate(40,1583) rotate(-90)" text-anchor="middle" font-size="13" fill="#e11">Insulin</text>
<text transform="translate(40,1632) rotate(-90)" text-anchor="middle" font-size="13" fill="#2c2">Brd4</text>
<rect x="52" y="1492" width="248" height="238" fill="#000"/>
<rect x="306" y="1492" width="246" height="238" fill="#000"/>
<rect x="557" y="1492" width="247" height="238" fill="#000"/>
<rect x="810" y="1492" width="248" height="238" fill="#000"/>
<rect x="52" y="1492" width="248" height="238" fill="url(#gdots)"/>
<rect x="306" y="1492" width="246" height="238" fill="url(#gdots)" opacity=".5"/>
<rect x="557" y="1492" width="247" height="238" fill="url(#gdots)"/>
<rect x="810" y="1492" width="248" height="238" fill="url(#gdots)"/>
<path d="M58,1620 C52,1570 90,1540 125,1535 C140,1520 160,1522 175,1515 C200,1505 235,1500 262,1520 C282,1560 262,1600 246,1640 C230,1665 200,1668 170,1680 C150,1690 130,1690 118,1672 C95,1668 62,1655 58,1620 Z" fill="#ff1a1a"/>
<path d="M58,1620 C52,1570 90,1540 125,1535 C140,1520 160,1522 175,1515 C200,1505 235,1500 262,1520 C282,1560 262,1600 246,1640 C230,1665 200,1668 170,1680 C150,1690 130,1690 118,1672 C95,1668 62,1655 58,1620 Z" fill="url(#cells)"/>
<path d="M330,1510 C400,1495 500,1500 530,1560 C545,1620 510,1700 430,1710 C360,1712 320,1660 320,1600 C318,1560 320,1530 330,1510 Z" fill="url(#faint)" opacity=".75"/>
<path d="M557,1640 C570,1590 620,1550 690,1543 C750,1540 792,1570 786,1610 C780,1660 740,1700 680,1718 C620,1728 570,1718 557,1692 Z" fill="#e81818"/>
<path d="M557,1640 C570,1590 620,1550 690,1543 C750,1540 792,1570 786,1610 C780,1660 740,1700 680,1718 C620,1728 570,1718 557,1692 Z" fill="url(#cells2)"/>
<path d="M865,1600 C860,1550 900,1515 950,1517 C995,1520 1012,1560 1010,1600 C1008,1650 980,1690 930,1693 C885,1690 868,1650 865,1600 Z" fill="#ff1a1a"/>
<path d="M865,1600 C860,1550 900,1515 950,1517 C995,1520 1012,1560 1010,1600 C1008,1650 980,1690 930,1693 C885,1690 868,1650 865,1600 Z" fill="url(#cells)"/>
<rect x="262" y="1711" width="28" height="4" fill="#fff"/>
</svg>
</body></html>
